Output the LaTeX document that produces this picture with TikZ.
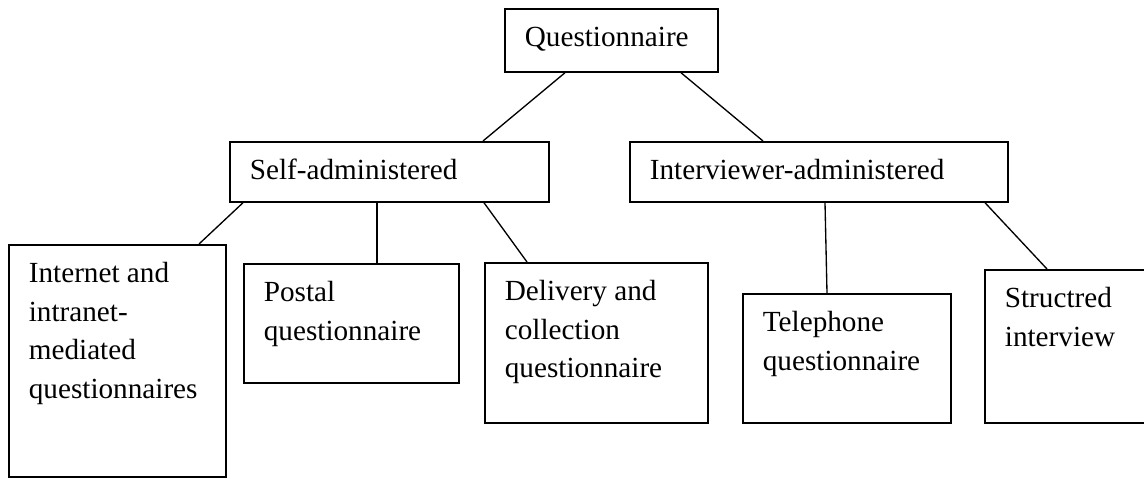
\documentclass[tikz,border=0pt]{standalone}
\usepackage{fontspec}
\setmainfont{Liberation Serif}
\usetikzlibrary{calc}

% Box contents: width and height in drawing units (px), text set top-left
\newcommand{\boxtext}[3]{%
  \parbox[t][\dimexpr #2pt*3/4\relax][t]{\dimexpr #1pt*3/4\relax}{%
    \raggedright\leftskip=15pt\rule{0pt}{28.3pt}#3}}

\begin{document}
\begin{tikzpicture}[x=0.75pt,y=-0.75pt,
  tbox/.style={draw, line width=1.3pt, inner sep=0pt, anchor=north west,
    font=\fontsize{21.9pt}{28.9pt}\selectfont},
  link/.style={line width=1pt}]
\useasboundingbox (0,0) rectangle (1144,478);

% top level
\node[tbox] (q) at (504,8) {\boxtext{213}{63}{Questionnaire}};

% second level
\node[tbox] (self) at (229,141) {\boxtext{319}{60}{Self-administered}};
\node[tbox] (int) at (629,141) {\boxtext{378}{60}{Interviewer-administered}};

% leaves
\node[tbox] (web) at (8,244) {\boxtext{217}{232}{Internet and\\ intranet-\\ mediated\\ questionnaires}};
\node[tbox] (post) at (243,263) {\boxtext{215}{119}{Postal\\ questionnaire}};
\node[tbox] (deliv) at (484,262) {\boxtext{223}{160}{Delivery and\\ collection\\ questionnaire}};
\node[tbox] (tel) at (742,293) {\boxtext{208}{129}{Telephone\\ questionnaire}};
\node[tbox] (struct) at (984,269) {\boxtext{161}{153}{Structred\\ interview}};

% connectors
\draw[link] ($(q.south west)+(61,0)$) -- ($(self.north west)+(254,0)$);
\draw[link] ($(q.south west)+(177,0)$) -- ($(int.north west)+(134,0)$);
\draw[link] ($(self.south west)+(14,0)$) -- ($(web.north west)+(191,0)$);
\draw[link] ($(self.south west)+(148,0)$) -- ($(post.north west)+(134,0)$);
\draw[link] ($(self.south west)+(255,0)$) -- ($(deliv.north west)+(43,0)$);
\draw[link] ($(int.south west)+(196,0)$) -- ($(tel.north west)+(85,0)$);
\draw[link] ($(int.south west)+(356,0)$) -- ($(struct.north west)+(63,0)$);
\end{tikzpicture}
\end{document}
